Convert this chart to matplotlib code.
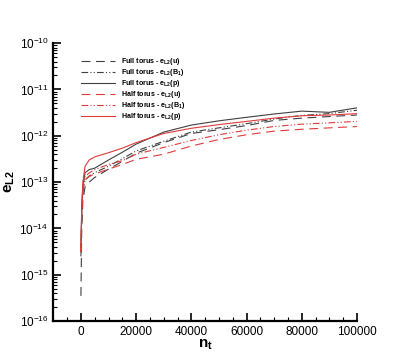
import numpy as np
import matplotlib; matplotlib.use("Agg"); import matplotlib.pyplot as plt
from matplotlib.ticker import MultipleLocator, FixedLocator, LogFormatterMathtext, NullFormatter

plt.rcParams.update({"font.family": "Liberation Sans", "mathtext.fontset": "custom",
                     "mathtext.rm": "Liberation Sans", "mathtext.bf": "Liberation Sans:bold",
                     "mathtext.it": "Liberation Sans:italic", "mathtext.default": "regular"})

# time step n_t (shared sample points)
nt = [0, 300, 700, 1500, 3000, 5000, 10000, 15000, 20000, 30000, 40000,
      50000, 60000, 70000, 80000, 90000, 100000]
full_u = [3.5e-16, 1.0e-14, 4.0e-14, 7.9e-14, 1.0e-13, 1.26e-13, 1.9e-13, 2.8e-13, 4.2e-13,
          7.1e-13, 1.12e-12, 1.35e-12, 1.66e-12, 2.14e-12, 2.4e-12, 2.6e-12, 2.8e-12]
full_B = [2.5e-15, 2.0e-14, 6.3e-14, 1.12e-13, 1.35e-13, 1.6e-13, 2.2e-13, 3.2e-13, 4.7e-13,
          7.6e-13, 1.2e-12, 1.48e-12, 1.82e-12, 2.3e-12, 2.75e-12, 3.0e-12, 3.55e-12]
full_p = [4.0e-15, 2.5e-14, 7.9e-14, 1.6e-13, 1.86e-13, 2.0e-13, 3.0e-13, 4.4e-13, 6.6e-13,
          1.2e-12, 1.7e-12, 2.1e-12, 2.5e-12, 2.95e-12, 3.4e-12, 3.2e-12, 4.0e-12]
half_u = [3.2e-15, 2.0e-14, 6.3e-14, 1.12e-13, 1.32e-13, 1.5e-13, 1.9e-13, 2.4e-13, 3.1e-13,
          4.0e-13, 6.0e-13, 8.3e-13, 1.05e-12, 1.26e-12, 1.38e-12, 1.48e-12, 1.58e-12]
half_B = [3.2e-15, 2.5e-14, 7.9e-14, 1.32e-13, 1.58e-13, 1.86e-13, 2.4e-13, 2.9e-13, 4.0e-13,
          5.6e-13, 7.9e-13, 1.05e-12, 1.32e-12, 1.58e-12, 1.78e-12, 1.9e-12, 2.04e-12]
half_p = [3.2e-15, 3.2e-14, 1.0e-13, 2.2e-13, 3.0e-13, 3.5e-13, 4.3e-13, 5.4e-13, 7.1e-13,
          1.12e-12, 1.45e-12, 1.74e-12, 2.04e-12, 2.4e-12, 2.7e-12, 2.8e-12, 3.0e-12]
decades = [1e-16, 1e-15, 1e-14, 1e-13, 1e-12, 1e-11, 1e-10]

GREY = "#404040"; RED = "#e03a3a"
DASH = (0, (8, 5)); DDOT = (0, (6, 2, 1, 2, 1, 2))
E = r"e$_\mathbf{L2}$"

fig = plt.figure(figsize=(4.07, 3.62), dpi=100)
ax = fig.add_axes([0.131, 0.113, 0.746, 0.768])
ax.plot(nt, full_u, color=GREY, ls=DASH, lw=0.8, label="Full torus - " + E + "(u)")
ax.plot(nt, full_B, color=GREY, ls=DDOT, lw=0.8, label="Full torus - " + E + r"(B$_\mathbf{1}$)")
ax.plot(nt, full_p, color=GREY, ls="-", lw=0.8, label="Full torus - " + E + "(p)")
ax.plot(nt, half_u, color=RED, ls=DASH, lw=0.8, label="Half torus - " + E + "(u)")
ax.plot(nt, half_B, color=RED, ls=DDOT, lw=0.8, label="Half torus - " + E + r"(B$_\mathbf{1}$)")
ax.plot(nt, half_p, color=RED, ls="-", lw=0.8, label="Half torus - " + E + "(p)")

ax.set_yscale("log")
ax.set_xlim(-10000, 100000); ax.set_ylim(decades[0], decades[-1])
ax.xaxis.set_major_locator(MultipleLocator(20000)); ax.xaxis.set_minor_locator(MultipleLocator(5000))
ax.yaxis.set_major_locator(FixedLocator(decades))
ax.yaxis.set_major_formatter(LogFormatterMathtext())
minor = [m * d for d in decades[:-1] for m in range(2, 10)]
ax.yaxis.set_minor_locator(FixedLocator(minor))
ax.yaxis.set_minor_formatter(NullFormatter())
for s in ("top", "right"): ax.spines[s].set_visible(False)
for s in ("left", "bottom"): ax.spines[s].set_linewidth(1.6)
ax.tick_params(which="major", direction="in", length=6, width=1.2, labelsize=8.5)
ax.tick_params(which="minor", direction="in", length=3, width=0.8)
ax.set_xlabel(r"n$_\mathbf{t}$", fontsize=11, fontweight="bold", labelpad=0)
ax.set_ylabel(E, fontsize=11, fontweight="bold", labelpad=2)

# tight rows like the original legend
leg = ax.legend(loc="upper left", bbox_to_anchor=(0.07, 0.975), frameon=False,
                prop={"size": 5.1, "weight": "bold"}, handlelength=4.8,
                handletextpad=0.8, labelspacing=0.0)
fig.savefig("out.png", dpi=100)
